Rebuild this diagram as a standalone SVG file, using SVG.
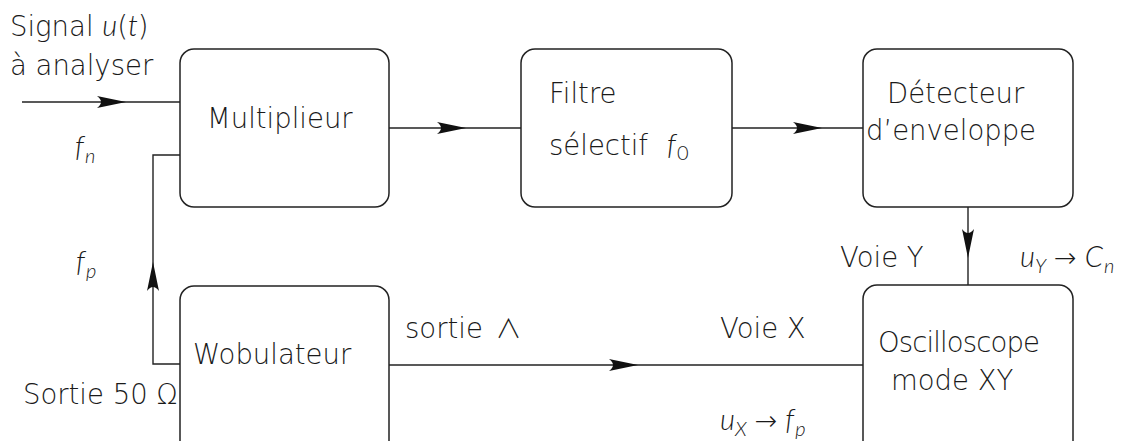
<svg xmlns="http://www.w3.org/2000/svg" xmlns:xlink="http://www.w3.org/1999/xlink" width="1143" height="441" viewBox="0 0 1143 441">
<style>
.box{fill:#fff;stroke:#222;stroke-width:1.5}
.ln{fill:none;stroke:#222;stroke-width:1.4}
text{font-family:"DejaVu Sans","Liberation Sans",sans-serif;font-size:27.5px;font-weight:200;fill:#1a1a1a}
.it{font-family:Lato,"DejaVu Sans",sans-serif;font-style:italic;font-weight:300;font-size:29px}
.sub{font-family:Lato,"DejaVu Sans",sans-serif;font-size:20px;font-style:italic;font-weight:300}
.up{font-family:Lato,"DejaVu Sans",sans-serif;font-weight:300;font-size:20px}
.sym{font-family:"DejaVu Sans",sans-serif;font-weight:200;font-size:27px}
.wedge{font-family:"Noto Sans CJK SC","DejaVu Sans",sans-serif;font-weight:300;font-size:26px}
</style>
<defs>
<path id="ah" d="M0,0 L-29,-6 Q-21,0 -29,6 Z" fill="#111"/>
</defs>
<rect width="1143" height="441" fill="#fff"/>
<g id="connectors">
<path class="ln" d="M22,102 H180"/>
<use xlink:href="#ah" transform="translate(126,102)"/>
<path class="ln" d="M389,128 H521"/>
<use xlink:href="#ah" transform="translate(466,128)"/>
<path class="ln" d="M732,128 H863"/>
<use xlink:href="#ah" transform="translate(822,128)"/>
<path class="ln" d="M968,207 V285"/>
<use xlink:href="#ah" transform="translate(968,258) rotate(90)"/>
<path class="ln" d="M389,365 H863"/>
<use xlink:href="#ah" transform="translate(638,365)"/>
<path class="ln" d="M180,364 H153 V155 H180"/>
<use xlink:href="#ah" transform="translate(153,262) rotate(-90)"/>
</g>
<g id="multiplieur">
<rect class="box" x="180" y="49" width="209" height="158" rx="14"/>
<text x="207" y="128">Multiplieur</text>
</g>
<g id="filtre">
<rect class="box" x="521" y="49" width="211" height="158" rx="14"/>
<text x="549" y="103">Filtre</text>
<text x="549" y="155">sélectif</text>
<text x="667" y="155"><tspan class="it">f</tspan><tspan class="up" dx="1" dy="5">0</tspan></text>
</g>
<g id="detecteur">
<rect class="box" x="863" y="49" width="210" height="158" rx="14"/>
<text x="887" y="103">Détecteur</text>
<text x="866" y="140">d’enveloppe</text>
</g>
<g id="oscilloscope">
<rect class="box" x="863" y="285" width="210" height="170" rx="14"/>
<text x="878" y="352" textLength="162">Oscilloscope</text>
<text x="891" y="390">mode XY</text>
</g>
<g id="wobulateur">
<rect class="box" x="180" y="286" width="209" height="170" rx="14"/>
<text x="193" y="364">Wobulateur</text>
</g>
<g id="labels">
<text x="10" y="36">Signal <tspan class="it">u</tspan>(<tspan class="it">t</tspan>)</text>
<text x="10" y="75">à analyser</text>
<text x="75" y="157"><tspan class="it">f</tspan><tspan class="sub" dx="1" dy="6">n</tspan></text>
<text x="76" y="272"><tspan class="it">f</tspan><tspan class="sub" dx="1" dy="6">p</tspan></text>
<text x="23" y="404">Sortie 50 Ω</text>
<text x="405" y="338">sortie <tspan class="wedge" dx="4">∧</tspan></text>
<text x="720" y="338">Voie X</text>
<text x="720" y="430"><tspan class="it">u</tspan><tspan class="sub" dy="6">X</tspan><tspan class="sym" dx="8" dy="-6">→</tspan><tspan class="it" dx="8">f</tspan><tspan class="sub" dx="1" dy="6">p</tspan></text>
<text x="840" y="267">Voie Y</text>
<text x="1020" y="267"><tspan class="it">u</tspan><tspan class="sub" dy="6">Y</tspan><tspan class="sym" dx="8" dy="-6">→</tspan><tspan class="it" dx="8">C</tspan><tspan class="sub" dx="1" dy="6">n</tspan></text>
</g>
</svg>
